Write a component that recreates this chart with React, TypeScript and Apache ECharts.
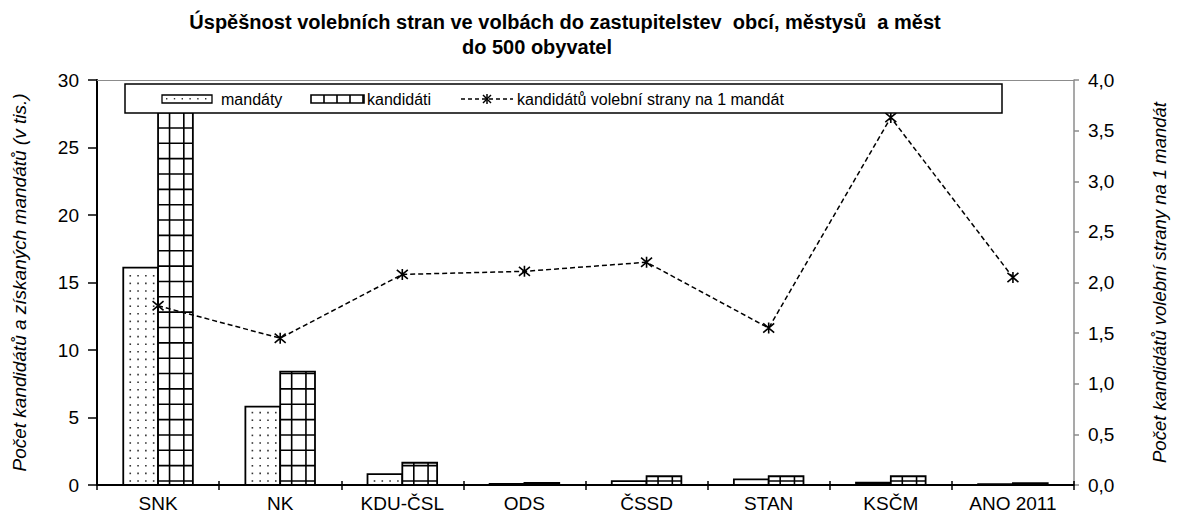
import React, { useEffect, useRef } from "react";
import * as echarts from "echarts";

const categories = ["SNK", "NK", "KDU-ČSL", "ODS", "ČSSD", "STAN", "KSČM", "ANO 2011"];
const mandaty = [16.1, 5.8, 0.8, 0.08, 0.29, 0.42, 0.18, 0.07];
const kandidati = [28.6, 8.4, 1.65, 0.16, 0.65, 0.65, 0.65, 0.14];
const naMandat = [1.77, 1.45, 2.08, 2.11, 2.2, 1.55, 3.63, 2.05];
const leftTicks = { min: 0, max: 30, interval: 5 };
const rightTicks = { min: 0, max: 4, interval: 0.5 };

const TITLE_1 = "Úspěšnost volebních stran ve volbách do zastupitelstev  obcí, městysů  a měst";
const TITLE_2 = "do 500 obyvatel";
const FONT = "'Liberation Sans', Arial, sans-serif";

const BAR_FRAC = 0.285;

function renderMandaty(params: any, api: any) {
  const i = api.value(0);
  const top = api.coord([i, api.value(1)]);
  const base = api.coord([i, 0]);
  const band = api.size([1, 0])[0];
  const w = band * BAR_FRAC;
  const x0 = base[0] - w;
  const y0 = top[1];
  const bottom = base[1];
  const tiny = bottom - y0 < 2.5;
  const children: any[] = [
    { type: "rect", shape: { x: x0, y: y0, width: w, height: bottom - y0 }, style: { fill: tiny ? "#000" : "#fff", stroke: "#000", lineWidth: 1.8 } },
  ];
  for (let yy = bottom - 4; yy > y0 + 3; yy -= 7.6) {
    for (let xx = x0 + 7; xx < x0 + w - 3; xx += 7.8) {
      children.push({ type: "rect", shape: { x: xx - 0.8, y: yy - 0.8, width: 1.6, height: 1.6 }, style: { fill: "#333" } });
    }
  }
  return { type: "group", children };
}

function renderKandidati(params: any, api: any) {
  const i = api.value(0);
  const top = api.coord([i, api.value(1)]);
  const base = api.coord([i, 0]);
  const band = api.size([1, 0])[0];
  const w = band * BAR_FRAC;
  const x0 = base[0];
  const y0 = top[1];
  const bottom = base[1];
  const tiny = bottom - y0 < 2.5;
  const children: any[] = [
    { type: "rect", shape: { x: x0, y: y0, width: w, height: bottom - y0 }, style: { fill: tiny ? "#000" : "#fff", stroke: "#000", lineWidth: 1.8 } },
  ];
  if (bottom - y0 > 3) {
    [0.33, 0.74].forEach((f) => {
      children.push({ type: "line", shape: { x1: x0 + w * f, y1: y0, x2: x0 + w * f, y2: bottom }, style: { stroke: "#000", lineWidth: 1.6 } });
    });
    for (let yy = bottom - 4; yy > y0 + 1; yy -= 15.35) {
      children.push({ type: "line", shape: { x1: x0, y1: yy, x2: x0 + w, y2: yy }, style: { stroke: "#000", lineWidth: 1.6 } });
    }
  }
  return { type: "group", children };
}

function graphicElements() {
  const cy = 99;
  const Z = 100;
  const els: any[] = [];
  els.push({ type: "text", z: Z, x: 565, y: 22, style: { text: TITLE_1, font: `bold 20px ${FONT}`, fill: "#000", textAlign: "center", textVerticalAlign: "middle" } });
  els.push({ type: "text", z: Z, x: 537, y: 47, style: { text: TITLE_2, font: `bold 20px ${FONT}`, fill: "#000", textAlign: "center", textVerticalAlign: "middle" } });
  els.push({ type: "rect", z: Z, shape: { x: 125, y: 84, width: 877, height: 29 }, style: { fill: "#fff", stroke: "#000", lineWidth: 1.5 } });
  // mandáty icon
  els.push({ type: "rect", z: Z + 1, shape: { x: 162, y: cy - 4, width: 50, height: 8 }, style: { fill: "#fff", stroke: "#000", lineWidth: 1.3 } });
  for (let xx = 166; xx < 210; xx += 7.8) {
    els.push({ type: "rect", z: Z + 2, shape: { x: xx, y: cy - 1, width: 1.4, height: 1.4 }, style: { fill: "#333" } });
  }
  els.push({ type: "text", z: Z + 1, x: 221, y: cy, style: { text: "mandáty", font: `16px ${FONT}`, fill: "#000", textVerticalAlign: "middle" } });
  // kandidáti icon
  els.push({ type: "rect", z: Z + 1, shape: { x: 311, y: cy - 4, width: 53, height: 8 }, style: { fill: "#fff", stroke: "#000", lineWidth: 1.6 } });
  for (let xx = 311 + 13; xx < 364; xx += 13) {
    els.push({ type: "line", z: Z + 2, shape: { x1: xx, y1: cy - 4, x2: xx, y2: cy + 4 }, style: { stroke: "#000", lineWidth: 1.6 } });
  }
  els.push({ type: "text", z: Z + 1, x: 367, y: cy, style: { text: "kandidáti", font: `16px ${FONT}`, fill: "#000", textVerticalAlign: "middle" } });
  // line icon
  els.push({ type: "line", z: Z + 1, shape: { x1: 461, y1: cy, x2: 513, y2: cy }, style: { stroke: "#000", lineWidth: 1.3, lineDash: [4, 3] } });
  els.push({ type: "line", z: Z + 2, shape: { x1: 483, y1: cy - 4, x2: 491, y2: cy + 4 }, style: { stroke: "#000", lineWidth: 1.5 } });
  els.push({ type: "line", z: Z + 2, shape: { x1: 491, y1: cy - 4, x2: 483, y2: cy + 4 }, style: { stroke: "#000", lineWidth: 1.5 } });
  els.push({ type: "line", z: Z + 2, shape: { x1: 487, y1: cy - 5, x2: 487, y2: cy + 5 }, style: { stroke: "#000", lineWidth: 1.5 } });
  els.push({ type: "text", z: Z + 1, x: 517, y: cy, style: { text: "kandidátů volební strany na 1 mandát", font: `16px ${FONT}`, fill: "#000", textVerticalAlign: "middle" } });
  return els;
}

export default function App() {
  const ref = useRef<HTMLDivElement>(null);
  useEffect(() => {
    if (!ref.current) return;
    const chart = echarts.init(ref.current, null, { renderer: "svg" });
    const axisLabelBase = { color: "#000", fontSize: 19, fontFamily: FONT };
    chart.setOption({
      animation: false,
      backgroundColor: "#fff",
      textStyle: { fontFamily: FONT, color: "#000" },
      grid: { left: 97, right: 99, top: 80, bottom: 31 },
      xAxis: [
        {
          type: "category",
          data: categories,
          position: "bottom",
          axisLine: { lineStyle: { color: "#000", width: 2.2 } },
          axisTick: { show: true, length: 5, lineStyle: { color: "#000", width: 1.5 } },
          axisLabel: { ...axisLabelBase, fontSize: 19, margin: 9 },
        },
        {
          type: "category",
          data: categories,
          position: "bottom",
          axisLine: { show: false },
          axisTick: { show: true, inside: true, length: 4, lineStyle: { color: "#000", width: 1.5 } },
          axisLabel: { show: false },
        },
        {
          type: "category",
          data: categories,
          position: "top",
          axisLine: { show: true, lineStyle: { color: "#8c8c8c", width: 1.2 } },
          axisTick: { show: false },
          axisLabel: { show: false },
        },
      ],
      yAxis: [
        {
          type: "value",
          ...leftTicks,
          position: "left",
          name: "Počet kandidátů a získaných mandátů (v tis.)",
          nameLocation: "middle",
          nameGap: 68,
          nameTextStyle: { fontSize: 19, fontStyle: "italic", color: "#000", fontFamily: FONT },
          axisLine: { show: true, lineStyle: { color: "#000", width: 2 } },
          axisTick: { show: true, length: 9, lineStyle: { color: "#000", width: 1.5 } },
          axisLabel: { ...axisLabelBase, margin: 18 },
          splitLine: { show: false },
        },
        {
          type: "value",
          ...rightTicks,
          position: "right",
          name: "Počet kandidátů volební strany na 1 mandát",
          nameLocation: "middle",
          nameGap: 76,
          nameRotate: 90,
          nameTextStyle: { fontSize: 18.5, fontStyle: "italic", color: "#000", fontFamily: FONT },
          axisLine: { show: true, lineStyle: { color: "#8c8c8c", width: 1.5 } },
          axisTick: { show: true, length: 5, lineStyle: { color: "#8c8c8c", width: 1.5 } },
          axisLabel: { ...axisLabelBase, margin: 14, formatter: (v: number) => v.toFixed(1).replace(".", ",") },
          splitLine: { show: false },
        },
      ],
      graphic: graphicElements(),
      series: [
        {
          name: "mandáty",
          type: "custom",
          xAxisIndex: 0,
          yAxisIndex: 0,
          renderItem: renderMandaty,
          encode: { x: 0, y: 1 },
          data: mandaty.map((v, i) => [i, v]),
          z: 2,
        },
        {
          name: "kandidáti",
          type: "custom",
          xAxisIndex: 0,
          yAxisIndex: 0,
          renderItem: renderKandidati,
          encode: { x: 0, y: 1 },
          data: kandidati.map((v, i) => [i, v]),
          z: 2,
        },
        {
          name: "kandidátů volební strany na 1 mandát",
          type: "line",
          xAxisIndex: 0,
          yAxisIndex: 1,
          data: naMandat,
          symbol: "path://M0,0L10,10M10,0L0,10M5,-1L5,11",
          symbolSize: 11,
          itemStyle: { color: "none", borderColor: "#000", borderWidth: 1.6 },
          lineStyle: { color: "#000", width: 1.5, type: [5, 3] },
          z: 5,
        },
      ],
    });
    return () => chart.dispose();
  }, []);
  return <div ref={ref} style={{ position: "fixed", left: 0, top: 0, width: 1177, height: 516 }} />;
}
